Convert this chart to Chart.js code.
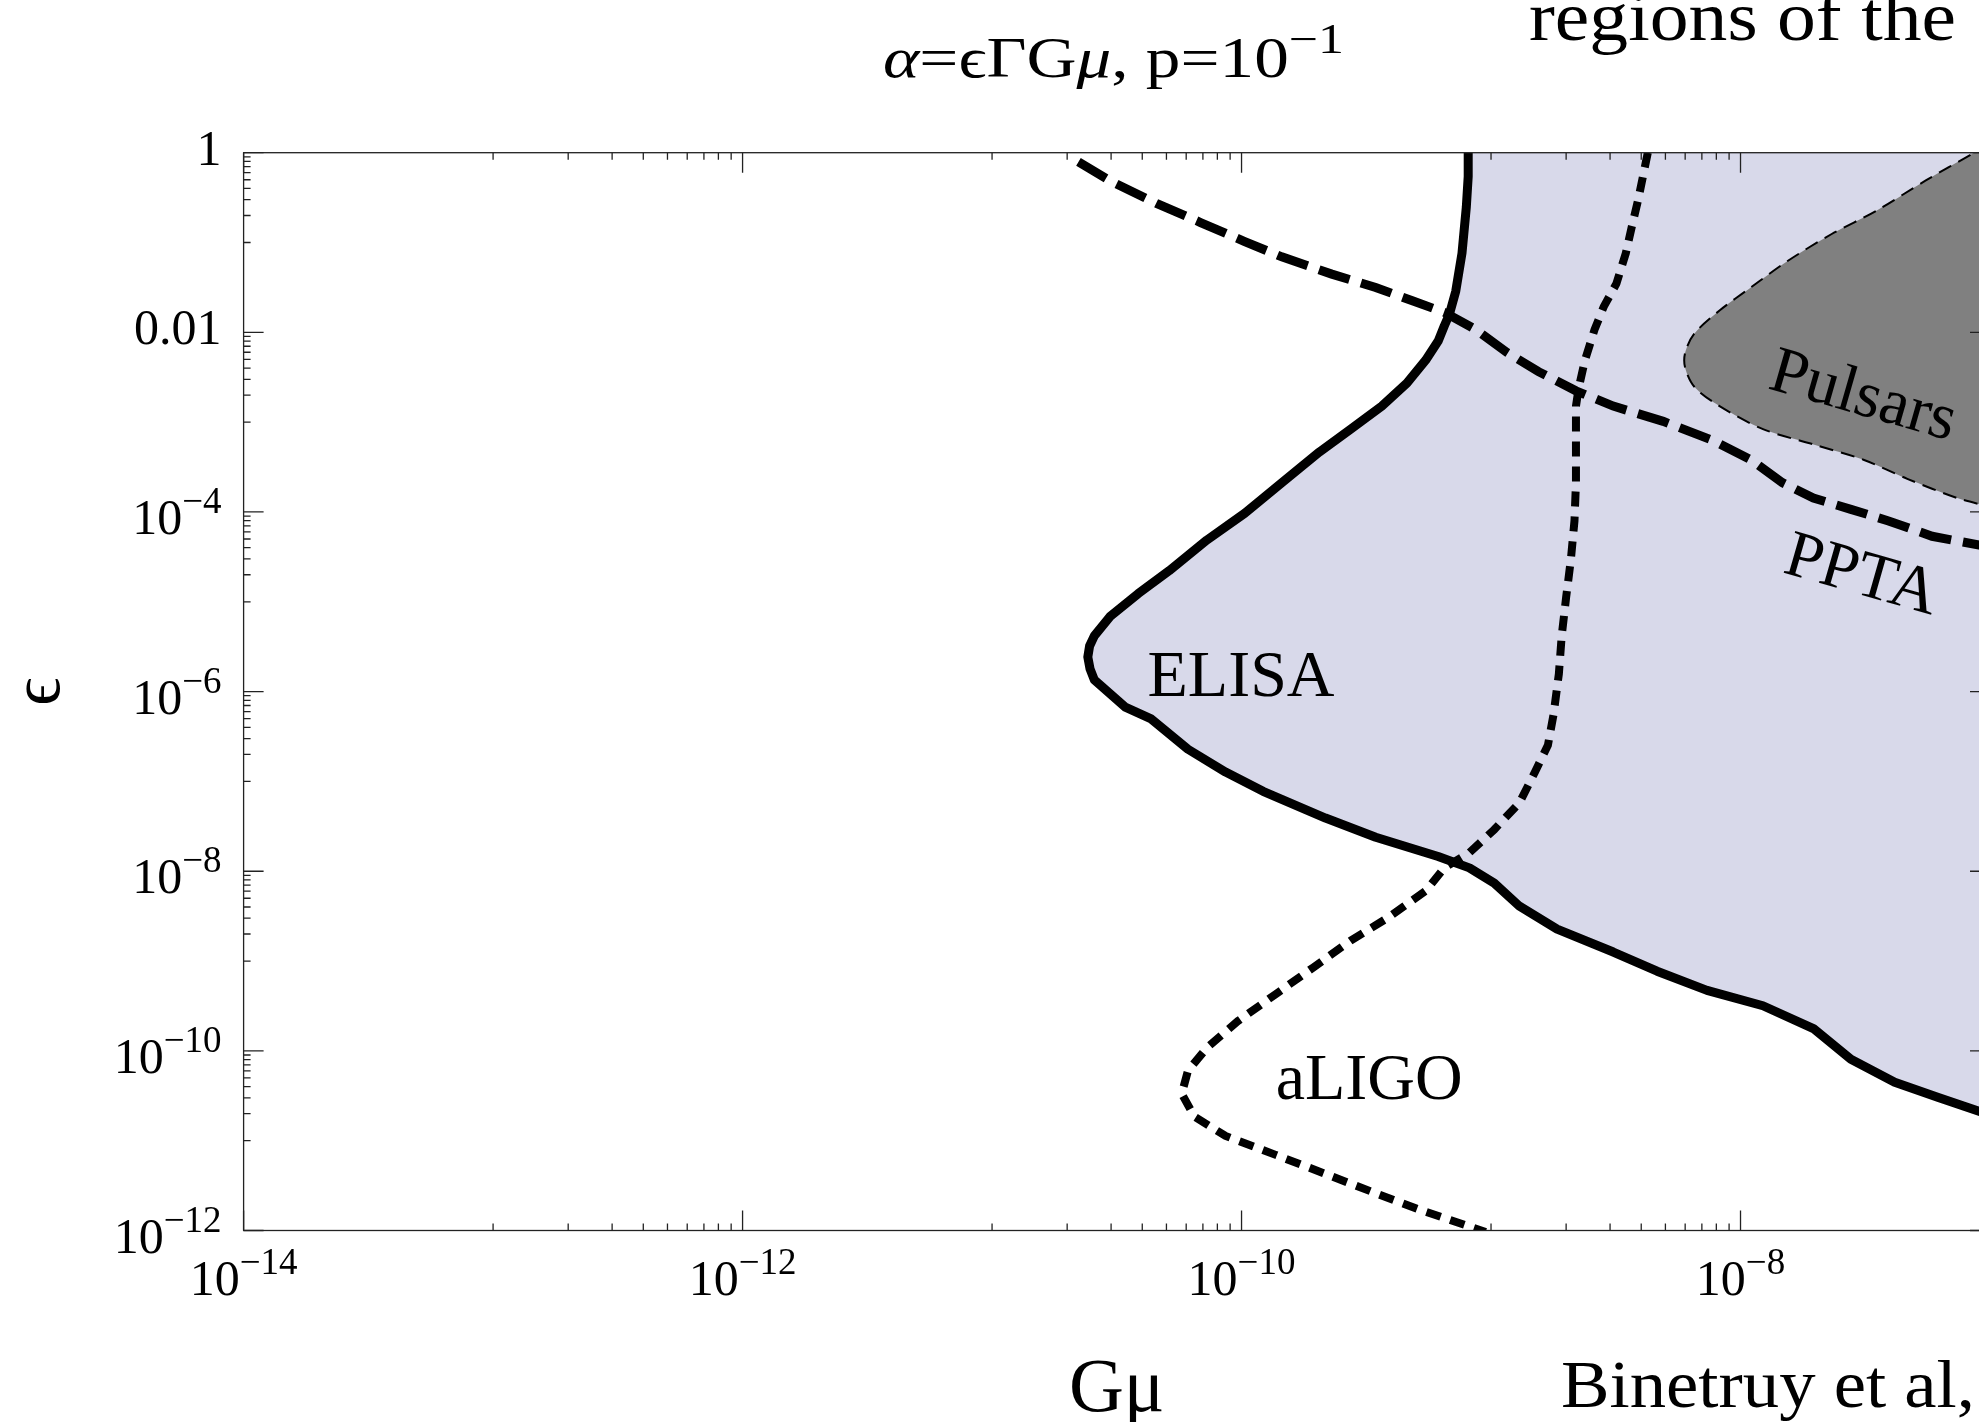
<!DOCTYPE html>
<html>
<head>
<meta charset="utf-8">
<script src="https://cdn.jsdelivr.net/npm/chart.js@4.4.1/dist/chart.umd.min.js"></script>
<style>
html,body{margin:0;padding:0;background:#ffffff;overflow:hidden;}
#wrap{position:absolute;left:0;top:0;width:2010px;height:1422px;}
</style>
</head>
<body>
<div id="wrap"><canvas id="chart" width="2010" height="1422"></canvas></div>
<script>
// ---- axis ranges ----
const gmuMin = 1e-14, gmuMax = 1e-7;
const epsMin = 1e-12, epsMax = 1;

// ---- ticks ----
const xTickValues = [1e-14, 1e-12, 1e-10, 1e-8];
const xTickLabels = ['10^\u221214', '10^\u221212', '10^\u221210', '10^\u22128'];
const yTickValues = [1, 1e-2, 1e-4, 1e-6, 1e-8, 1e-10, 1e-12];
const yTickLabels = ['1', '0.01', '10^\u22124', '10^\u22126', '10^\u22128', '10^\u221210', '10^\u221212'];
const minorMultipliers = [0.1, 0.2, 0.3, 0.4, 0.5, 0.6, 0.7, 0.8, 0.9];

// ---- ELISA sensitivity boundary ----
const elisaGmu = [8.10e-10, 8.10e-10, 7.96e-10, 7.65e-10, 7.22e-10, 6.81e-10, 6.50e-10, 6.14e-10, 5.47e-10, 4.60e-10,
  3.65e-10, 2.74e-10, 2.05e-10, 1.45e-10, 1.03e-10, 7.26e-11, 5.13e-11, 3.85e-11, 2.97e-11, 2.57e-11,
  2.46e-11, 2.42e-11, 2.47e-11, 2.57e-11, 3.42e-11, 4.32e-11, 6.10e-11, 8.63e-11, 1.22e-10, 2.17e-10,
  3.45e-10, 6.14e-10, 8.19e-10, 1.03e-9, 1.30e-9, 1.84e-9, 3.09e-9, 4.63e-9, 7.34e-9, 1.23e-8,
  1.96e-8, 2.77e-8, 4.15e-8, 6.21e-8, 1.0e-7];
const elisaEps = [1, 0.543, 0.247, 0.0762, 0.0286, 0.0159, 0.01182, 7.99e-3, 4.90e-3, 2.72e-3,
  1.51e-3, 8.37e-4, 4.64e-4, 2.12e-4, 9.67e-5, 4.86e-5, 2.22e-5, 1.23e-5, 6.84e-6, 4.18e-6,
  3.22e-6, 2.43e-6, 1.79e-6, 1.35e-6, 6.71e-7, 5.01e-7, 2.28e-7, 1.27e-7, 7.75e-8, 3.91e-8,
  2.39e-8, 1.46e-8, 1.09e-8, 7.36e-9, 4.08e-9, 2.27e-9, 1.26e-9, 7.71e-10, 4.72e-10, 3.18e-10,
  1.77e-10, 8.08e-11, 4.48e-11, 3.03e-11, 1.93e-11];

// ---- aLIGO boundary ----
const ligoGmu = [4.25e-9, 3.89e-9, 3.67e-9, 3.47e-9, 3.18e-9, 2.83e-9, 2.60e-9, 2.38e-9, 2.25e-9, 2.19e-9,
  2.19e-9, 2.19e-9, 2.16e-9, 2.09e-9, 2.00e-9, 1.92e-9, 1.87e-9, 1.78e-9, 1.69e-9, 1.50e-9,
  1.30e-9, 1.03e-9, 8.19e-10, 6.50e-10, 5.47e-10, 3.87e-10, 2.74e-10, 1.94e-10, 1.37e-10, 9.68e-11,
  7.26e-11, 6.10e-11, 5.76e-11, 6.46e-11, 8.63e-11, 1.37e-10, 2.17e-10, 3.45e-10, 5.22e-10, 9.52e-10];
const ligoEps = [1, 0.301, 0.1516, 0.0762, 0.0348, 0.0193, 0.01073, 4.90e-3, 2.46e-3, 1.51e-3,
  5.65e-4, 2.12e-4, 7.94e-5, 2.98e-5, 1.12e-5, 4.18e-6, 1.57e-6, 5.52e-7, 2.52e-7, 1.27e-7,
  5.78e-8, 2.91e-8, 1.61e-8, 1.09e-8, 6.04e-9, 3.05e-9, 1.69e-9, 8.50e-10, 4.28e-10, 2.15e-10,
  1.08e-10, 6.02e-11, 3.34e-11, 1.86e-11, 1.13e-11, 6.95e-12, 4.26e-12, 2.60e-12, 1.69e-12, 9.63e-13];

// ---- PPTA bound ----
const pptaGmu = [2.22e-11, 3.05e-11, 4.56e-11, 6.85e-11, 1.03e-10, 1.45e-10, 2.30e-10, 3.45e-10, 4.87e-10, 6.50e-10,
  8.68e-10, 1.16e-9, 1.55e-9, 2.19e-9, 3.09e-9, 4.90e-9, 7.78e-9, 1.10e-8, 1.47e-8, 1.96e-8,
  2.77e-8, 3.92e-8, 5.86e-8, 1.0e-7];
const pptaEps = [0.788, 0.468, 0.273, 0.167, 0.1024, 0.0692, 0.0445, 0.0316, 0.0223, 0.0167,
  0.01073, 5.95e-3, 3.65e-3, 2.23e-3, 1.51e-3, 1.02e-3, 6.23e-4, 3.82e-4, 2.12e-4, 1.43e-4,
  1.07e-4, 7.94e-5, 5.36e-5, 4.07e-5];

// ---- Pulsars excluded region ----
const pulsarGmu = [1.0e-7, 8.54e-8, 5.53e-8, 3.49e-8, 2.32e-8, 1.55e-8, 1.10e-8, 8.24e-9, 6.54e-9, 6.00e-9,
  6.00e-9, 6.54e-9, 8.24e-9, 1.23e-8, 1.96e-8, 3.11e-8, 4.66e-8, 7.39e-8, 1.0e-7];
const pulsarEps = [1.218, 0.977, 0.491, 0.2243, 0.1244, 0.0627, 0.0316, 0.0175, 9.73e-3, 5.95e-3,
  4.02e-3, 2.46e-3, 1.51e-3, 8.37e-4, 5.65e-4, 3.82e-4, 2.34e-4, 1.43e-4, 1.14e-4];

// ---- region labels (anchor in data coordinates) ----
const regionLabels = ['ELISA', 'aLIGO', 'PPTA', 'Pulsars'];
const regionLabelGmu = [4.20e-11, 1.37e-10, 1.46e-8, 1.27e-8];
const regionLabelEps = [8.93e-7, 2.91e-11, 2.15e-5, 2.40e-3];

// ---------------------------------------------------------------
const FAMILY = '"Liberation Serif","Times New Roman","DejaVu Serif",serif';
const pts = (xs, ys) => xs.map((v, i) => ({x: v, y: ys[i]}));
const minorOf = (majors, lo) => majors.flatMap(m => minorMultipliers.map(k => k * m)).filter(v => v >= lo);
const xMinorTicks = minorOf(xTickValues, gmuMin);
const yMinorTicks = minorOf(yTickValues, epsMin);

function runFont(r, size, supScale) {
  return (r.it ? 'italic ' : '') + (r.sup ? size * supScale : size) + 'px ' + FAMILY;
}
function drawRuns(ctx, runs, x, y, o) {
  const size = o.size, ss = o.supScale || 0.72;
  let nat = 0;
  for (const r of runs) { ctx.font = runFont(r, size, ss); nat += ctx.measureText(r.t).width; }
  const sx = o.width ? o.width / nat : (o.sx || 1);
  const w = nat * sx;
  const x0 = o.align === 'center' ? -w / 2 : (o.align === 'right' ? -w : 0);
  ctx.save();
  ctx.translate(x, y);
  if (o.angle) ctx.rotate(o.angle * Math.PI / 180);
  ctx.translate(x0, 0);
  ctx.scale(sx, 1);
  ctx.fillStyle = o.color || '#000';
  ctx.textAlign = 'left';
  ctx.textBaseline = 'alphabetic';
  let cx = 0;
  for (const r of runs) {
    ctx.font = runFont(r, size, ss);
    ctx.fillText(r.t, cx, r.sup ? -size * 0.42 : 0);
    cx += ctx.measureText(r.t).width;
  }
  ctx.restore();
}
function labelRuns(lbl) {
  const parts = lbl.split('^');
  const runs = [{t: parts[0]}];
  if (parts[1]) runs.push({t: parts[1], sup: true});
  return runs;
}

const framePlugin = {
  id: 'frame',
  afterDatasetsDraw(chart) {
    const {ctx, chartArea: a, scales: {x, y}} = chart;
    const MAJ = 20, MIN = 7;
    ctx.save();
    ctx.strokeStyle = '#222';
    ctx.lineWidth = 1.3;
    ctx.strokeRect(a.left, a.top, a.right - a.left, a.bottom - a.top);
    ctx.beginPath();
    const xt = (v, len) => { const p = x.getPixelForValue(v);
      ctx.moveTo(p, a.bottom); ctx.lineTo(p, a.bottom - len); ctx.moveTo(p, a.top); ctx.lineTo(p, a.top + len); };
    const yt = (v, len) => { const p = y.getPixelForValue(v);
      ctx.moveTo(a.left, p); ctx.lineTo(a.left + len, p); ctx.moveTo(a.right, p); ctx.lineTo(a.right - len, p); };
    xTickValues.forEach(v => xt(v, MAJ));
    xMinorTicks.forEach(v => xt(v, MIN));
    yTickValues.forEach(v => yt(v, MAJ));
    yMinorTicks.forEach(v => yt(v, MIN));
    ctx.stroke();
    ctx.restore();
  }
};

const textPlugin = {
  id: 'texts',
  afterDraw(chart) {
    const {ctx, chartArea: a, scales: {x, y}} = chart;
    // tick labels
    xTickValues.forEach((v, i) => drawRuns(ctx, labelRuns(xTickLabels[i]), x.getPixelForValue(v), a.bottom + 64,
      {size: 50, align: 'center', supScale: 0.74}));
    yTickValues.forEach((v, i) => {
      const hasExp = yTickLabels[i].includes('^');
      drawRuns(ctx, labelRuns(yTickLabels[i]), a.left - 22, y.getPixelForValue(v) + (hasExp ? 22 : 12),
        {size: 50, align: 'right', supScale: 0.74});
    });
    // plot label
    drawRuns(ctx, [{t: '\u03B1', it: true}, {t: '='}, {t: '\u03F5\u0393G'}, {t: '\u03BC', it: true},
      {t: ', p=10'}, {t: '\u22121', sup: true}], 883, 77, {size: 56, width: 461, supScale: 0.75});
    // slide texts
    drawRuns(ctx, [{t: 'regions of the'}], 1529, 40, {size: 69, width: 427});
    drawRuns(ctx, [{t: 'Binetruy et al,'}], 1561, 1407, {size: 68, width: 414});
    // region labels
    regionLabels.forEach((t, i) => {
      const px = x.getPixelForValue(regionLabelGmu[i]);
      const py = y.getPixelForValue(regionLabelEps[i]);
      drawRuns(ctx, [{t}], px, py, {size: 66, angle: (i >= 2 ? 16 : 0)});
    });
  }
};

new Chart(document.getElementById('chart'), {
  type: 'line',
  data: {
    datasets: [
      {label: 'ELISA', data: pts(elisaGmu, elisaEps), borderColor: '#000', borderWidth: 9, fill: false,
        pointRadius: 0, tension: 0, order: 1, borderJoinStyle: 'round'},
      {label: 'aLIGO', data: pts(ligoGmu, ligoEps), borderColor: '#000', borderWidth: 8, borderDash: [15, 10],
        fill: false, pointRadius: 0, tension: 0, order: 2},
      {label: 'PPTA', data: pts(pptaGmu, pptaEps), borderColor: '#000', borderWidth: 9, borderDash: [32, 12],
        fill: false, pointRadius: 0, tension: 0, order: 3},
      {label: 'Pulsars', data: pts(pulsarGmu, pulsarEps), borderColor: '#000', borderWidth: 2, borderDash: [14, 8],
        backgroundColor: '#808080', fill: 'shape', pointRadius: 0, tension: 0.3, order: 4},
      {label: 'ELISA region', data: pts(elisaGmu.concat([gmuMax]), elisaEps.concat([epsMax])),
        borderColor: 'rgba(0,0,0,0)', borderWidth: 1, backgroundColor: '#d8d9ea', fill: 'shape',
        pointRadius: 0, tension: 0, order: 5}
    ]
  },
  options: {
    responsive: false,
    animation: false,
    events: [],
    layout: {padding: {top: 152.7, right: 20, left: 0, bottom: 0}},
    plugins: {legend: {display: false}, tooltip: {enabled: false}, title: {display: false}},
    scales: {
      x: {
        type: 'logarithmic', min: gmuMin, max: gmuMax, position: 'bottom',
        grid: {display: false, drawTicks: false}, border: {display: false}, ticks: {display: false},
        title: {display: true, text: 'G\u03BC', color: '#000', font: {family: FAMILY, size: 76, lineHeight: 0.82},
          padding: {top: 0, bottom: 0}},
        afterFit(s) { s.height = 191.5; }
      },
      y: {
        type: 'logarithmic', min: epsMin, max: epsMax, position: 'left',
        grid: {display: false, drawTicks: false}, border: {display: false}, ticks: {display: false},
        title: {display: true, text: '\u03F5', color: '#000', font: {family: FAMILY, size: 70, lineHeight: 1},
          padding: {top: 6, bottom: 0}},
        afterFit(s) { s.width = 243.6; }
      }
    }
  },
  plugins: [framePlugin, textPlugin]
});
</script>
</body>
</html>
